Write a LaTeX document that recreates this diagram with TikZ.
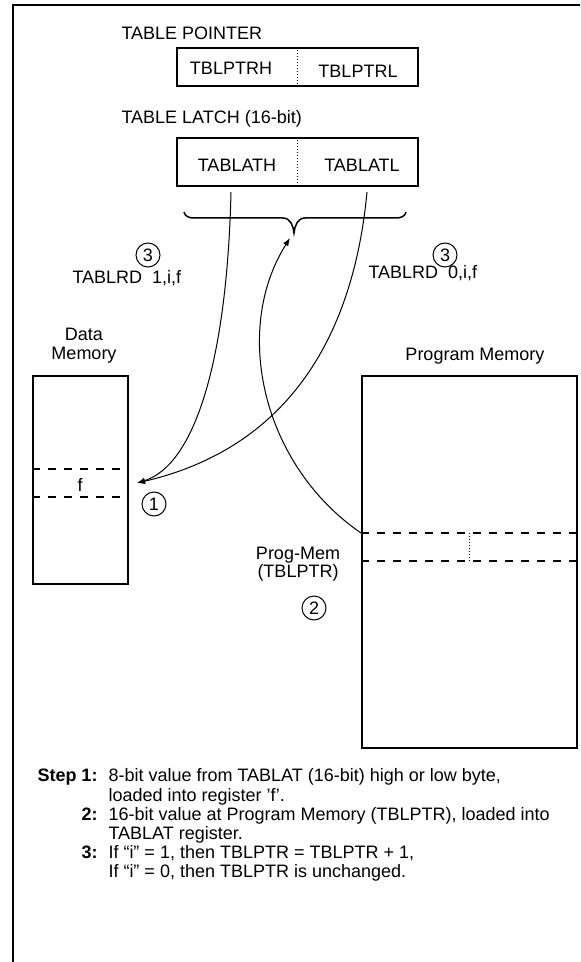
\documentclass[tikz,border=0pt]{standalone}
\usepackage{fontspec}
\setmainfont{Liberation Sans}
\usetikzlibrary{arrows.meta,positioning,calc}
\tikzset{
  every picture/.style={line width=0.5pt},
  reg/.style={draw, line width=1pt, inner sep=0pt},
  mem/.style={draw, line width=1pt, inner sep=0pt},
  slot/.style={dash pattern=on 4pt off 4pt, line width=1pt},
  split/.style={densely dotted, line width=0.5pt},
  num/.style={draw, circle, minimum size=12pt, inner sep=0pt, line width=0.5pt},
  lbl/.style={inner sep=0pt, align=center},
  feed/.style={-{Latex[length=4pt,width=3pt]}, line width=0.5pt},
}

\begin{document}
\begin{tikzpicture}[x=0.5pt, y=-0.5pt, font=\fontsize{9}{9.6}\selectfont]
  \useasboundingbox (0,0) rectangle (580,962);
  % frame
  \draw[line width=1pt] (580,5) -- (13,5) -- (13,962);
  % pointer and latch registers
  \node[lbl, anchor=west] (ptrlbl) at (121,33) {TABLE POINTER};
  \node[reg, minimum width=120.5pt, minimum height=19pt] (ptr) at (297.5,67) {};
  \draw[split] (ptr.north) -- (ptr.south);
  \node[lbl] (ptrh) at (231,68) {TBLPTRH};
  \node[lbl] (ptrl) at (358,71) {TBLPTRL};
  \node[lbl, anchor=west] (latlbl) at (121,119) {TABLE LATCH (16-bit)};
  \node[reg, minimum width=120.5pt, minimum height=24pt] (lat) at (297.5,162) {};
  \draw[split] (lat.north) -- (lat.south);
  \node[lbl] (lath) at (237,165) {TABLATH};
  \node[lbl] (latl) at (362,165) {TABLATL};
  \coordinate (hiout) at (231,192);
  \coordinate (loout) at (367,192);
  % brace
  \coordinate (tip) at (294,233);
  \draw[line width=0.75pt] (184,212) to[out=-80,in=180] (194,218) -- (283,218)
    to[out=0,in=95] (tip) to[out=85,in=180] (305,218) -- (396,218) to[out=0,in=-100] (406,212);
  \node[num] (c3l) at (148,255) {3};
  \node[lbl, anchor=west] (rdhi) at (72,278) {TABLRD\ \ 1,i,f};
  \node[num] (c3r) at (445,255) {3};
  \node[lbl, anchor=west] (rdlo) at (368,273) {TABLRD\ \ 0,i,f};
  % memories
  \node[lbl] (dlbl) at (84,346) {Data\\Memory};
  \node[lbl] (plbl) at (475,356) {Program Memory};
  \node[mem, minimum width=47.5pt, minimum height=104pt] (dmem) at (80.5,480) {};
  \node[mem, minimum width=107.5pt, minimum height=186pt] (pmem) at (469.5,562) {};
  \draw[slot] (dmem.west |- 0,469) -- (dmem.east |- 0,469);
  \draw[slot] (dmem.west |- 0,497) -- (dmem.east |- 0,497);
  \node[lbl] (freg) at (80,485) {f};
  \draw[slot] (pmem.west |- 0,533) -- (pmem.east |- 0,533);
  \draw[slot] (pmem.west |- 0,561) -- (pmem.east |- 0,561);
  \draw[split] (pmem.center |- 0,533) -- (pmem.center |- 0,561);
  \coordinate (word) at (pmem.west |- 0,533);
  \coordinate (fin) at (137,483);
  \node[num] (c1) at (154,504) {1};
  \node[lbl, font=\fontsize{9}{9}\selectfont] (pmlbl) at (298,564) {Prog-Mem\\(TBLPTR)};
  \node[num] (c2) at (314,608) {2};
  % transfers
  \draw[feed] (hiout) .. controls (227,360) and (195,465) .. (fin);
  \draw[feed] (loout) .. controls (355,320) and (300,445) .. (fin);
  \draw[feed] (word) .. controls (262,465) and (232,330) .. ($(tip)+(-4,5)$);
  % steps
  \node[lbl, anchor=north west] (steps) at (37,768) {%
    \begin{tabular}{@{}r@{\hspace{5.5pt}}l@{}}
      \textbf{Step 1:} & 8-bit value from TABLAT (16-bit) high or low byte,\\
      & loaded into register 'f'.\\
      \textbf{2:} & 16-bit value at Program Memory (TBLPTR), loaded into\\
      & TABLAT register.\\
      \textbf{3:} & If “i” = 1, then TBLPTR = TBLPTR + 1,\\
      & If “i” = 0, then TBLPTR is unchanged.
    \end{tabular}};
\end{tikzpicture}
\end{document}
